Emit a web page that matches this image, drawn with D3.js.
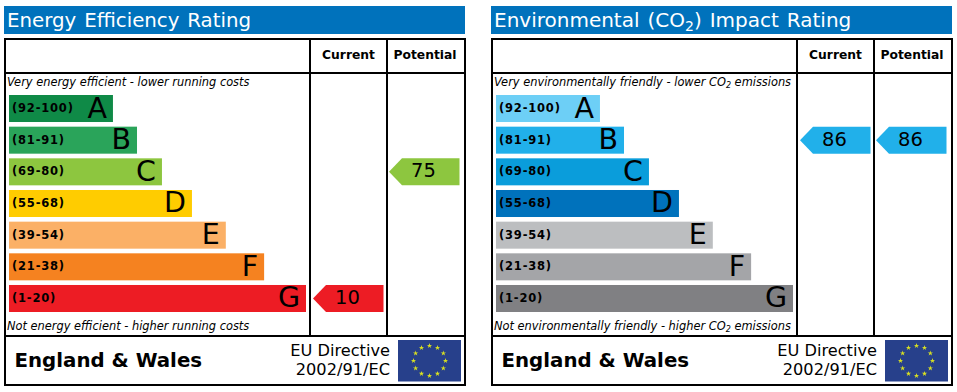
<!DOCTYPE html>
<html>
<head>
<meta charset="utf-8">
<script src="https://cdn.jsdelivr.net/npm/d3@7"></script>
<style>
  html, body { margin: 0; padding: 0; background: #fff; }
  svg { display: block; }
  text { font-family: "DejaVu Sans", Verdana, sans-serif; fill: #000; }
</style>
</head>
<body>
<svg id="chart" width="957" height="392"></svg>
<script>
const bandRanges = ['(92-100)', '(81-91)', '(69-80)', '(55-68)', '(39-54)', '(21-38)', '(1-20)'];
const bandLetters = ['A', 'B', 'C', 'D', 'E', 'F', 'G'];
const bandMins = [92, 81, 69, 55, 39, 21, 1];
// bar length as a share of the longest bar
const bandLengths = [35, 43.1, 51.5, 61.6, 73, 85.9, 100];

const energyColors = ['#0f8a47', '#2aa45a', '#8dc63f', '#ffcc00', '#fbb066', '#f58220', '#ed1c24'];
const envColors = ['#6dcff6', '#21b0ea', '#0a9ddb', '#0072bc', '#bcbec0', '#a4a5a8', '#808083'];

const energyCurrent = 10;
const energyPotential = 75;
const envCurrent = 86;
const envPotential = 86;

const svg = d3.select('#chart');

function bandOf(rating) {
  return bandMins.findIndex(m => rating >= m);
}

function drawPanel(x0, opts) {
  const g = svg.append('g').attr('transform', `translate(${x0},0)`);

  const xScale = d3.scaleLinear().domain([0, 100]).range([5, 302]);
  const yScale = d3.scaleBand().domain(bandLetters).range([95, 312]).paddingInner(0.147).paddingOuter(0);

  // title bar
  g.append('rect').attr('x', 0).attr('y', 6).attr('width', 461).attr('height', 28).attr('fill', '#0072bc');
  const title = g.append('text').attr('x', 3).attr('y', 27).attr('font-size', 19.8)
    .attr('word-spacing', 1.6).style('fill', '#fff');
  opts.title(title);

  // frame
  const line = (x1, y1, x2, y2) => g.append('line').attr('x1', x1).attr('y1', y1).attr('x2', x2).attr('y2', y2)
    .attr('stroke', '#000').attr('stroke-width', 2);
  g.append('rect').attr('x', 1).attr('y', 39).attr('width', 460).attr('height', 346)
    .attr('fill', 'none').attr('stroke', '#000').attr('stroke-width', 2);
  line(1, 73, 461, 73);
  line(1, 336, 461, 336);
  line(306, 39, 306, 336);
  line(383, 39, 383, 336);

  // column heads
  g.append('text').attr('x', 344.5).attr('y', 59).attr('text-anchor', 'middle')
    .attr('font-size', 12.3).attr('font-weight', 'bold').text('Current');
  g.append('text').attr('x', 421).attr('y', 59).attr('text-anchor', 'middle')
    .attr('font-size', 12.3).attr('font-weight', 'bold').text('Potential');

  // top and bottom captions
  const capTop = g.append('text').attr('x', 3).attr('y', 86).attr('font-size', 11.4).attr('font-style', 'italic');
  opts.top(capTop);
  const capBot = g.append('text').attr('x', 3).attr('y', 330).attr('font-size', 11.4).attr('font-style', 'italic');
  opts.bottom(capBot);

  // bars
  const rows = g.selectAll('g.band').data(bandLetters).enter().append('g').attr('class', 'band')
    .attr('transform', d => `translate(0,${yScale(d)})`);
  rows.append('rect')
    .attr('x', xScale(0))
    .attr('width', (d, i) => xScale(bandLengths[i]) - xScale(0))
    .attr('height', yScale.bandwidth())
    .attr('fill', (d, i) => opts.colors[i]);
  rows.append('text').attr('x', xScale(0) + 3).attr('y', 17)
    .attr('font-size', 11.5).attr('font-weight', 'bold').attr('letter-spacing', 0.8)
    .text((d, i) => bandRanges[i]);
  rows.append('text').attr('x', (d, i) => xScale(bandLengths[i]) - 6)
    .attr('y', 22.5).attr('text-anchor', 'end').attr('font-size', 28.5)
    .text(d => d);

  // rating pointers
  const pointer = d3.line();
  const drawPointer = (rating, left) => {
    const i = bandOf(rating);
    const h = yScale.bandwidth();
    const top = yScale(bandLetters[i]);
    g.append('path')
      .attr('d', pointer([[left, top + h / 2], [left + 13, top], [left + 70.5, top], [left + 70.5, top + h], [left + 13, top + h]]) + 'Z')
      .attr('fill', opts.colors[i]);
    g.append('text').attr('x', left + 34.5).attr('y', top + 19).attr('text-anchor', 'middle')
      .attr('font-size', 19.5).text(rating);
  };
  drawPointer(opts.current, 309);
  drawPointer(opts.potential, 385);

  // footer
  g.append('text').attr('x', 10.5).attr('y', 367).attr('font-size', 19.8).attr('font-weight', 'bold').text('England & Wales');
  g.append('text').attr('x', 386).attr('y', 356).attr('text-anchor', 'end').attr('font-size', 16.2).text('EU Directive');
  g.append('text').attr('x', 386).attr('y', 375).attr('text-anchor', 'end').attr('font-size', 16.2).text('2002/91/EC');

  // flag
  const fx = 394, fy = 340, fw = 63, fh = 41.5;
  g.append('rect').attr('x', fx).attr('y', fy).attr('width', fw).attr('height', fh).attr('fill', '#27408b');
  const star = d3.symbol().type(d3.symbolStar).size(9);
  g.selectAll('path.star').data(d3.range(12)).enter().append('path').attr('class', 'star')
    .attr('d', star)
    .attr('fill', '#d9e021')
    .attr('transform', d => {
      const a = d * Math.PI / 6;
      return `translate(${fx + fw / 2 + 16 * Math.sin(a)},${fy + fh / 2 - 15 * Math.cos(a)})`;
    });
}

function co2(sel, before, after, subSize) {
  sel.append('tspan').text(before);
  sel.append('tspan').attr('dy', subSize * 0.3).attr('font-size', subSize).text('2');
  sel.append('tspan').attr('dy', -subSize * 0.3).text(after);
}

drawPanel(4, {
  colors: energyColors,
  current: energyCurrent,
  potential: energyPotential,
  title: t => t.text('Energy Efficiency Rating'),
  top: t => t.text('Very energy efficient - lower running costs'),
  bottom: t => t.text('Not energy efficient - higher running costs')
});

drawPanel(491, {
  colors: envColors,
  current: envCurrent,
  potential: envPotential,
  title: t => co2(t.attr('font-size', 20), 'Environmental (CO', ') Impact Rating', 14),
  top: t => co2(t, 'Very environmentally friendly - lower CO', ' emissions', 8),
  bottom: t => co2(t, 'Not environmentally friendly - higher CO', ' emissions', 8)
});
</script>
</body>
</html>
